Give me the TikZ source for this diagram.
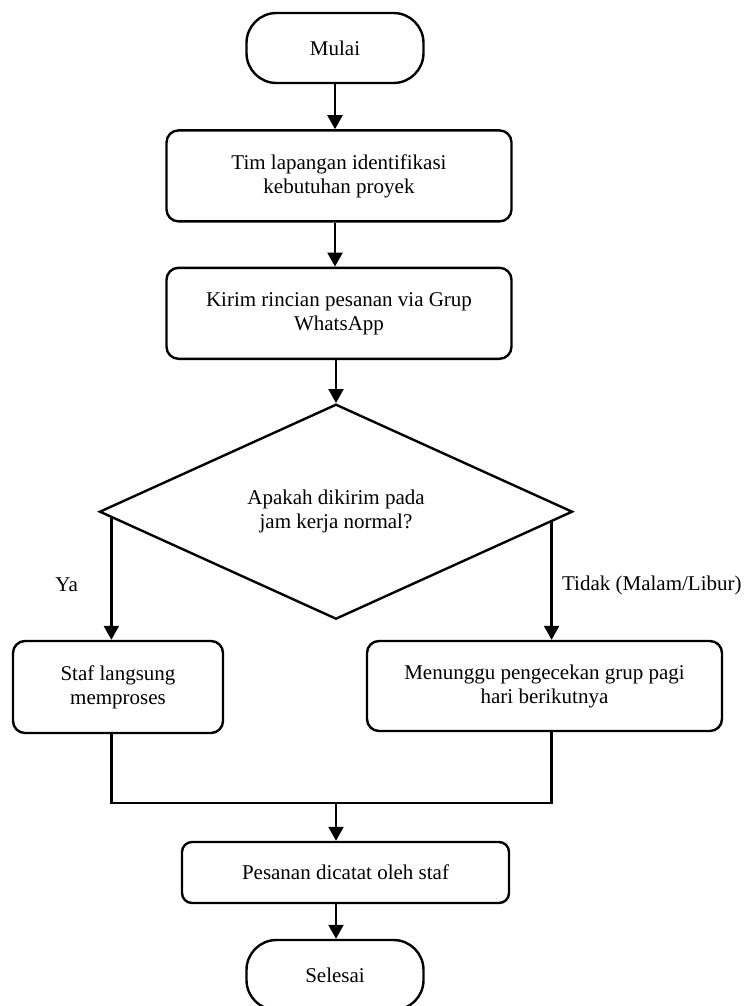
\documentclass[tikz,border=0pt]{standalone}
\usepackage{fontspec}
\setmainfont{Liberation Serif}
\usetikzlibrary{arrows.meta,positioning,shapes.geometric,calc}
\tikzset{
  term/.style={draw, rounded corners=30pt, minimum width=177pt, minimum height=70pt},
  proc/.style={draw, rounded corners=12pt, align=center, minimum width=345pt, minimum height=91pt},
  decision/.style={draw, diamond, align=center, aspect=2.2, inner sep=0pt,
    minimum width=473pt, minimum height=215pt},
}

\begin{document}
\begin{tikzpicture}[->, >={Triangle[width=15pt,length=14pt]}, x=1pt, y=-1pt,
  line width=2.4pt, font=\fontsize{21}{24}\selectfont]
\useasboundingbox (0,0) rectangle (746,1006);
%
\node (mulai) [term] at (335,48) {Mulai};
\node (tim) [proc, below=45pt of mulai, xshift=4pt] {Tim lapangan identifikasi\\kebutuhan proyek};
\node (kirim) [proc, below=44pt of tim] {Kirim rincian pesanan via Grup\\WhatsApp};
\node (dec) [decision, below=43pt of kirim, xshift=-3pt] {Apakah dikirim pada\\jam kerja normal?};
\node (staf) [proc, minimum width=210pt, minimum height=92pt] at (118,687) {Staf langsung\\memproses};
\node (tunggu) [proc, minimum width=355pt, minimum height=90pt] at (544.5,686) {Menunggu pengecekan grup pagi\\hari berikutnya};
\node (catat) [proc, rounded corners=10pt, minimum width=327pt, minimum height=61pt] at (345.5,872.5) {Pesanan dicatat oleh staf};
\node (selesai) [term] at (335,975) {Selesai};
%
\coordinate (ya) at ($(dec.west)!0.055!(dec.south)$);
\coordinate (tidak) at ($(dec.east)!0.093!(dec.south)$);
\coordinate (gabung) at (336,803);
%
\path (mulai.south) edge (mulai.south |- tim.north);
\path (tim.south -| mulai.south) edge (mulai.south |- kirim.north);
\path (kirim.south -| dec.north) edge (dec.north);
\path (ya) edge node[pos=0.55, left=29pt] {Ya} (ya |- staf.north);
\path (tidak) edge node[pos=0.54, right=6pt] {Tidak (Malam/Libur)} (tidak |- tunggu.north);
\draw[-] (ya |- staf.south) -- (ya |- gabung) -- (tidak |- gabung) -- (tidak |- tunggu.south);
\path (gabung) edge (gabung |- catat.north);
\path (catat.south -| gabung) edge (gabung |- selesai.north);
\end{tikzpicture}
\end{document}
